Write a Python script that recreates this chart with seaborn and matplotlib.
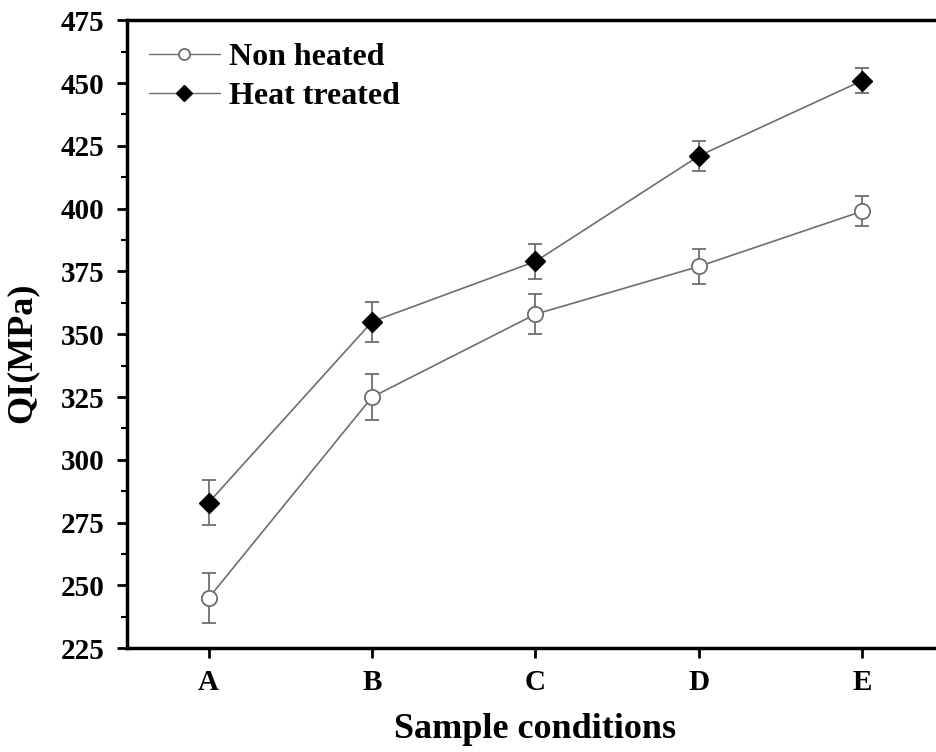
import matplotlib
matplotlib.use("Agg")
import matplotlib.pyplot as plt
from matplotlib.ticker import MultipleLocator
import pandas as pd
import seaborn as sns

# Quality index per sample condition
conditions = ["A", "B", "C", "D", "E"]
non_heated = [245, 325, 358, 377, 399]
non_heated_err = [10, 9, 8, 7, 6]
heat_treated = [283, 355, 379, 421, 451]
heat_treated_err = [9, 8, 7, 6, 5]
series_names = ["Non heated", "Heat treated"]

df = pd.DataFrame({
    "condition": conditions * 2,
    "QI": non_heated + heat_treated,
    "err": non_heated_err + heat_treated_err,
    "series": [series_names[0]] * 5 + [series_names[1]] * 5,
})

sns.set_style("ticks")
plt.rcParams["font.family"] = ["Liberation Serif", "DejaVu Serif"]
plt.rcParams["font.weight"] = "bold"
plt.rcParams["text.color"] = "black"
plt.rcParams["axes.labelcolor"] = "black"
plt.rcParams["xtick.color"] = "black"
plt.rcParams["ytick.color"] = "black"

fig = plt.figure(figsize=(9.37, 7.52), dpi=100)
ax = fig.add_axes([0.1355, 0.138, 0.872, 0.835])

line_color = "#6e6e6e"
x_pos = list(range(len(conditions)))
df["x"] = [x_pos[conditions.index(c)] for c in df["condition"]]

styles = {
    "Non heated": dict(marker="o", markersize=11, markerfacecolor="white",
                       markeredgecolor="#6e6e6e", markeredgewidth=1.3),
    "Heat treated": dict(marker="D", markersize=10, markerfacecolor="black",
                         markeredgecolor="black", markeredgewidth=1.0),
}

for name in series_names:
    sub = df[df["series"] == name]
    ax.errorbar(sub["x"], sub["QI"], yerr=sub["err"], fmt="none",
                ecolor=line_color, elinewidth=1.3, capsize=5, capthick=1.3,
                zorder=2)
    sns.lineplot(data=sub, x="x", y="QI", ax=ax, color=line_color,
                 linewidth=1.2, label=name, zorder=3, **styles[name])

ax.set_xlim(-0.5, 4.5)
ax.set_ylim(225, 475)
ax.set_xticks(x_pos)
ax.set_xticklabels(conditions)
ax.yaxis.set_major_locator(MultipleLocator(25))
ax.yaxis.set_minor_locator(MultipleLocator(12.5))

ax.set_xlabel("Sample conditions", fontsize=26, fontweight="bold", labelpad=12,
              color="black")
ax.set_ylabel("QI(MPa)", fontsize=26, fontweight="bold", color="black")
ax.yaxis.set_label_coords(-0.108, 0.47)

for lab in ax.get_xticklabels() + ax.get_yticklabels():
    lab.set_fontweight("bold")
ax.tick_params(axis="both", which="major", direction="out", length=7,
               width=2, labelsize=21, color="black", labelcolor="black")
ax.tick_params(axis="y", which="major", pad=9)
ax.tick_params(axis="y", which="minor", direction="out", length=4, width=1.5)
ax.tick_params(axis="x", which="major", pad=8)

for side in ["left", "bottom", "top"]:
    ax.spines[side].set_linewidth(2.5)
    ax.spines[side].set_color("black")
ax.spines["right"].set_visible(False)

leg = ax.legend(loc="upper left", frameon=False,
                handlelength=2.2, handletextpad=0.3, borderaxespad=0.3,
                labelspacing=0.3, prop={"weight": "bold", "size": 23})
for t in leg.get_texts():
    t.set_color("black")
for h in leg.legend_handles:
    h.set_markersize(8)
    h.set_linewidth(1.0)

fig.savefig("out.png", dpi=100)
